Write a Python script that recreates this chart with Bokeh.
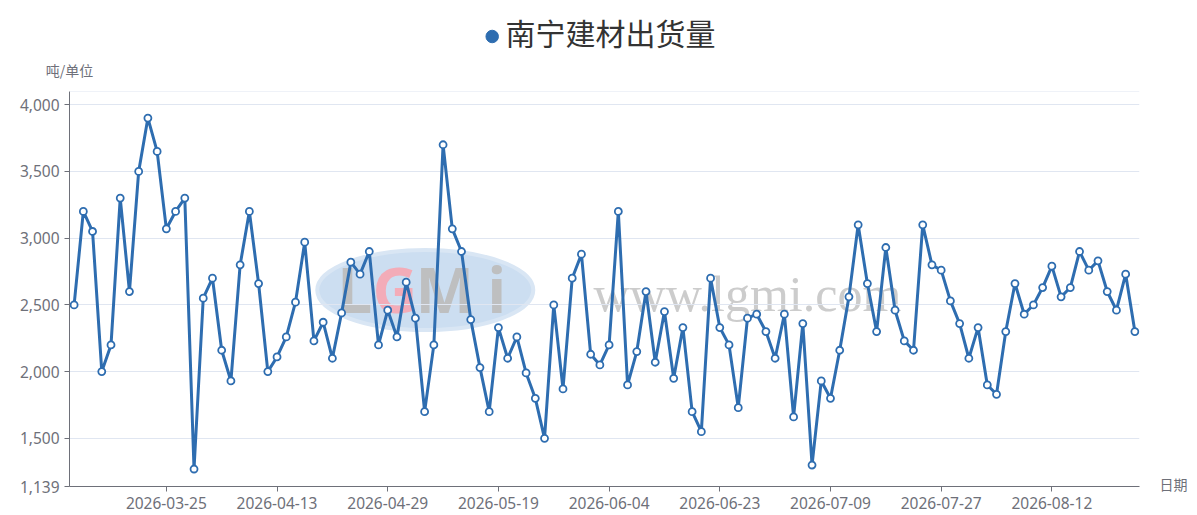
from bokeh.plotting import figure
from bokeh.models import (FixedTicker, NumeralTickFormatter, Label, Span, Range1d,
                          LinearAxis)
from bokeh.layouts import column
from bokeh.core.properties import value
from bokeh.embed import file_html
from bokeh.resources import INLINE

# ---- data ----
values = [2500, 3200, 3050, 2000, 2200, 3300, 2600, 3500, 3900, 3650,
          3070, 3200, 3300, 1270, 2550, 2700, 2160, 1930, 2800, 3200,
          2660, 2000, 2110, 2260, 2520, 2970, 2230, 2370, 2100, 2440,
          2820, 2730, 2900, 2200, 2460, 2260, 2670, 2400, 1700, 2200,
          3700, 3070, 2900, 2390, 2030, 1700, 2330, 2100, 2260, 1990,
          1800, 1500, 2500, 1870, 2700, 2880, 2130, 2050, 2200, 3200,
          1900, 2150, 2600, 2070, 2450, 1950, 2330, 1700, 1550, 2700,
          2330, 2200, 1730, 2400, 2430, 2300, 2100, 2430, 1660, 2360,
          1300, 1930, 1800, 2160, 2560, 3100, 2660, 2300, 2930, 2460,
          2230, 2160, 3100, 2800, 2760, 2530, 2360, 2100, 2330, 1900,
          1830, 2300, 2660, 2430, 2500, 2630, 2790, 2560, 2630, 2900,
          2760, 2830, 2600, 2460, 2730, 2300]
label_index = [10, 22, 34, 46, 58, 70, 82, 94, 106]
label_dates = ["2026-03-25", "2026-04-13", "2026-04-29", "2026-05-19",
               "2026-06-04", "2026-06-23", "2026-07-09", "2026-07-27",
               "2026-08-12"]
y_ticks = [1139, 1500, 2000, 2500, 3000, 3500, 4000]
y_min, y_max = 1139, 4099
series_name = "南宁建材出货量"
y_name = "吨/单位"
x_name = "日期"

x = list(range(len(values)))

LINE = "#2e6db0"
AXIS = "#6e7079"
FONT = "Noto Sans"
CJK = "Noto Sans CJK SC"
PAGE_W, PAGE_H, HEAD_H = 1197, 515, 56
LEFT, RIGHT, TOP, BOTTOM = 69, 58, 34, 29


def name_axis(pos, text, standoff):
    ax = LinearAxis(ticker=FixedTicker(ticks=[pos]),
                    major_label_overrides={pos: text})
    ax.axis_line_color = None
    ax.major_tick_line_color = None
    ax.minor_tick_line_color = None
    ax.major_tick_out = 0
    ax.major_tick_in = 0
    ax.major_label_standoff = standoff
    ax.major_label_text_color = AXIS
    ax.major_label_text_font = CJK
    ax.major_label_text_font_size = "14px"
    return ax


# ---- header: legend-like title (frame is aligned with the chart frame) ----
hdr = figure(width=PAGE_W, height=HEAD_H, x_range=Range1d(LEFT, PAGE_W - RIGHT),
             y_range=Range1d(HEAD_H, 0), output_backend="svg",
             toolbar_location=None, x_axis_location=None, y_axis_location=None,
             title_location=None, min_border_left=LEFT, min_border_right=RIGHT,
             min_border_top=0, min_border_bottom=0)
hdr.outline_line_color = None
hdr.grid.visible = False
hdr.background_fill_color = "white"
hdr.border_fill_color = "white"
hdr.scatter(x=[491.7], y=[36], marker="circle", size=12.5,
            fill_color=LINE, line_color=LINE)
hdr.text(x=[505], y=[31.5], text=[series_name], text_font=value(CJK),
         text_font_size="30px", text_color="#333333",
         text_align="left", text_baseline="middle")

# ---- main chart ----
p = figure(width=PAGE_W, height=PAGE_H - HEAD_H, output_backend="svg",
           toolbar_location=None, title_location=None,
           x_range=Range1d(-0.5, len(values) - 0.5),
           y_range=Range1d(y_min, y_max),
           min_border_left=LEFT, min_border_right=RIGHT,
           min_border_top=TOP, min_border_bottom=BOTTOM)
p.outline_line_color = None
p.background_fill_color = "white"
p.border_fill_color = "white"

p.xgrid.grid_line_color = None
p.ygrid.grid_line_color = "#e0e6f1"
p.ygrid.ticker = FixedTicker(ticks=y_ticks)
p.add_layout(Span(location=y_max, dimension="width", line_color="#e0e6f1", line_width=1))

p.yaxis.ticker = FixedTicker(ticks=y_ticks)
p.yaxis.formatter = NumeralTickFormatter(format="0,0")
p.xaxis.ticker = FixedTicker(ticks=label_index)
p.xaxis.major_label_overrides = {i: d for i, d in zip(label_index, label_dates)}
for ax in (p.xaxis[0], p.yaxis[0]):
    ax.axis_line_color = AXIS
    ax.major_tick_line_color = AXIS
    ax.minor_tick_line_color = None
    ax.major_tick_out = 5
    ax.major_tick_in = 0
    ax.major_label_text_color = AXIS
    ax.major_label_text_font = FONT
    ax.major_label_text_font_size = "15.5px"
p.xaxis.major_label_standoff = 5
p.yaxis.major_label_standoff = 5

# axis names: y name above the top of the y axis, x name right of the x axis end
p.add_layout(name_axis(-0.5, y_name, 12), "above")
p.add_layout(name_axis(1154, x_name, 20), "right")

# watermark (decoration, under the grid)
p.ellipse(x=[38.07], y=[2611], width=[216], height=[80], width_units="screen",
          height_units="screen", fill_color="#c6daf0", fill_alpha=0.9,
          line_color="#d9e6f4", line_width=4, level="image")
wm_y = 198 + TOP  # canvas units of the chart figure
for txt, cx, col in (("L", 337, "#bdbdbd"), ("G", 372, "#f4a9b4"),
                     ("M", 415, "#bdbdbd"), ("i", 487, "#bdbdbd")):
    p.add_layout(Label(x=cx, y=wm_y, x_units="canvas", y_units="canvas", text=txt,
                       text_font=FONT, text_font_style="bold", text_font_size="62px",
                       text_color=col, text_alpha=0.95, text_baseline="middle",
                       level="image"))
p.add_layout(Label(x=593, y=wm_y + 5, x_units="canvas", y_units="canvas",
                   text="www.lgmi.com", text_font="Liberation Serif",
                   text_font_size="50px", text_color="#c6c6c6", text_alpha=0.9,
                   text_baseline="middle", level="image"))

p.line(x, values, line_color=LINE, line_width=3)
p.scatter(x, values, marker="circle", size=7, fill_color="white",
          line_color=LINE, line_width=1.8)

layout = column(hdr, p, spacing=0)
open("out.html", "w").write(file_html(layout, INLINE))
